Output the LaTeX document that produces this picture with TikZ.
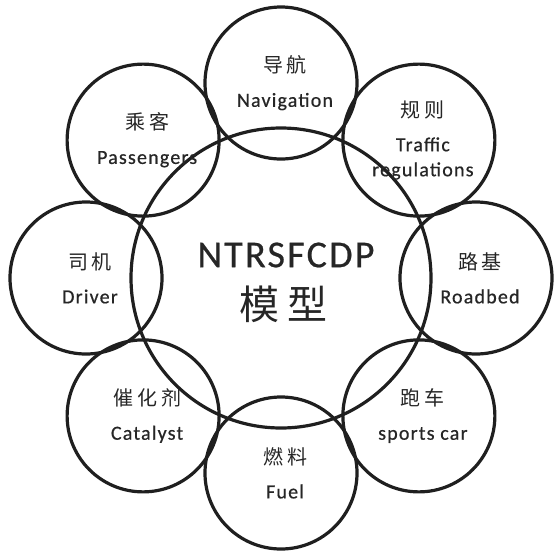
\documentclass[tikz,border=0pt]{standalone}
\usepackage{fontspec}
\setmainfont{Carlito}[LetterSpace=6,FakeBold=0.6]
\newfontfamily\cjk{Noto Sans CJK SC}[LetterSpace=20]
\usetikzlibrary{calc,positioning}

\begin{document}
\begin{tikzpicture}[x=1pt,y=1pt,
    ring/.style={draw=black!88, line width=3.2pt, circle, minimum size=152pt, inner sep=0pt},
    tag/.style={align=center, text=black!85, font=\fontsize{20}{25}\selectfont}]
    \useasboundingbox (0,-555) rectangle (558,0);

        % Central model circle
        \node [ring, minimum size=300pt] (model) at (281,-278) {};
        \node [text=black!85, font=\fontsize{38}{40}\selectfont] (model_name) at ($(model)+(5,23)$) {NTRSFCDP};
        \node [text=black!85, font=\cjk\fontsize{40}{40}\selectfont, inner sep=0pt] (model_cn) at ($(model)+(2,-26)$) {模型};

        % Surrounding factor circles
        \foreach \i/\angle/\cn/\en in {1/90/导航/Navigation, 2/45/规则/{Traffic\\regulations}, 3/0/路基/Roadbed, 4/-45/跑车/sports car, 5/-90/燃料/Fuel, 6/-135/催化剂/Catalyst, 7/180/司机/Driver, 8/135/乘客/Passengers} {
            \node [ring] (factor\i) at ($(model) + (\angle:195)$) {};
            \node [tag] (label\i) at ($(factor\i) + (4,0)$) {{\cjk \cn}\\[9pt]\en};
        }
    \end{tikzpicture}
\end{document}
